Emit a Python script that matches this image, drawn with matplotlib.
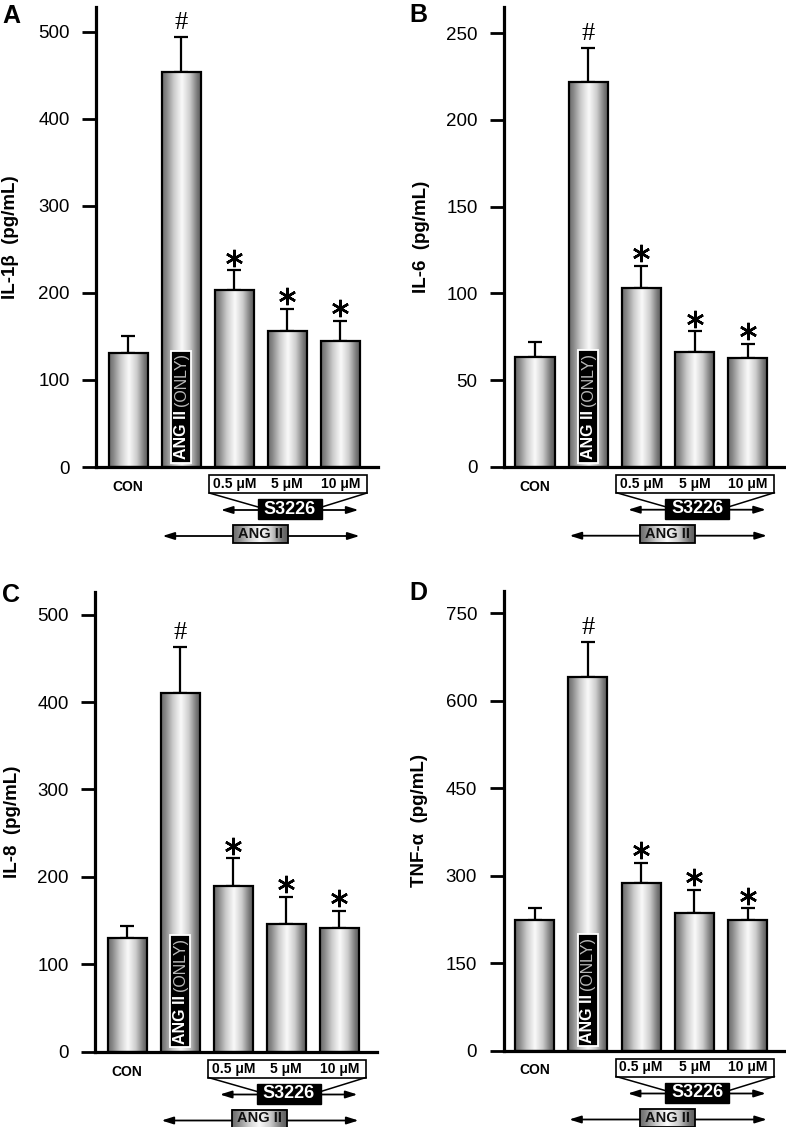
import numpy as np
import matplotlib
matplotlib.use("Agg")
import matplotlib.pyplot as plt
from matplotlib.patches import Rectangle
from matplotlib.transforms import ScaledTranslation

plt.rcParams['font.family'] = ['Liberation Sans', 'DejaVu Sans']

W, H, DPI = 786, 1127, 100
AX_H = 460  # axes height in px

# ---- data ----
groups = ["CON", "ANG II", "0.5 μM", "5 μM", "10 μM"]
dose_labels = ["0.5 μM", "5 μM", "10 μM"]
marks = ["", "#", "*", "*", "*"]

il1b_mean = [131, 454, 204, 156, 145]
il1b_err = [19, 40, 22, 26, 23]
il6_mean = [63, 222, 103, 66, 62.5]
il6_err = [9, 19.5, 13, 12, 8.5]
il8_mean = [130, 411, 190, 146, 141]
il8_err = [14, 52, 31, 31, 20]
tnf_mean = [223, 640, 288, 236, 223]
tnf_err = [22, 61, 34, 40, 21]

il1b_ticks = [0, 100, 200, 300, 400, 500]
il6_ticks = [0, 50, 100, 150, 200, 250]
il8_ticks = [0, 100, 200, 300, 400, 500]
tnf_ticks = [0, 150, 300, 450, 600, 750]

# letter, ylabel, means, errs, ticks, ytop, (left px, top px, width px), xlim, label x, letter pos
panels = [
    ("A", "IL-1β  (pg/mL)", il1b_mean, il1b_err, il1b_ticks, 528.7, (96, 7, 282), (-0.603, 4.708), -0.273, (2, 22.7)),
    ("B", "IL-6  (pg/mL)", il6_mean, il6_err, il6_ticks, 265.3, (504, 6.7, 281), (-0.583, 4.70), -0.262, (409, 21.7)),
    ("C", "IL-8  (pg/mL)", il8_mean, il8_err, il8_ticks, 526.7, (95, 591.5, 282), (-0.603, 4.708), -0.262, (2, 601.7)),
    ("D", "TNF-α  (pg/mL)", tnf_mean, tnf_err, tnf_ticks, 789.0, (503.5, 590.5, 281.5), (-0.583, 4.70), -0.268, (409, 600)),
]

# cylinder-like shading of the bars
grad_stops = [0, 0.1, 0.3, 0.5, 0.7, 0.9, 1.0]
grad_vals = [0.42, 0.52, 0.8, 0.98, 0.8, 0.45, 0.36]
grad = np.interp(np.linspace(0, 1, 200), grad_stops, grad_vals)[None, :]

fig = plt.figure(figsize=(W / DPI, H / DPI), dpi=DPI)


def yb(dy):
    """axes-fraction y for dy px below the x axis"""
    return -dy / AX_H


for letter, ylab, means, errs, ticks, ytop, (lp, tp, wp), xlim, labx, (lx, ly) in panels:
    ax = fig.add_axes([lp / W, 1 - (tp + AX_H) / H, wp / W, AX_H / H])
    x = np.arange(len(groups))
    bars = ax.bar(x, means, 0.735, fill=False, edgecolor='black', linewidth=1.6, zorder=3)
    for b in bars:
        ax.imshow(grad, cmap='gray', vmin=0, vmax=1, aspect='auto', interpolation='bicubic',
                  extent=(b.get_x(), b.get_x() + b.get_width(), 0, b.get_height()), zorder=2)
    ax.errorbar(x, means, yerr=[np.zeros(len(errs)), errs], fmt='none', ecolor='black',
                elinewidth=1.6, capsize=5, capthick=1.6, zorder=1)

    ax.set_xlim(*xlim)
    ax.set_ylim(0, ytop)
    ax.set_yticks(ticks)
    ax.set_xticks([])
    for s in ['top', 'right']:
        ax.spines[s].set_visible(False)
    for s in ['left', 'bottom']:
        ax.spines[s].set_linewidth(2.3)
    ax.tick_params(axis='y', length=10, width=2.0, labelsize=13.5, pad=9)
    ax.set_ylabel(ylab, fontsize=13.5, fontweight='bold')
    ax.yaxis.set_label_coords(labx, 0.5)

    fig.text(lx / W, 1 - ly / H, letter, fontsize=18, fontweight='bold', ha='left', va='baseline')

    # significance marks
    for xi, m, t in zip(x, marks, np.array(means) + np.array(errs)):
        if m == "#":
            ax.annotate("#", (xi, t), xytext=(0, 2), textcoords='offset points',
                        ha='center', va='bottom', fontsize=19, family='Liberation Serif')
        elif m == "*":
            off = ScaledTranslation(0, 9 / 72, fig.dpi_scale_trans)
            ax.plot([xi], [t], marker=(6, 2, 0), markersize=12.5, markeredgewidth=1.8,
                    color='black', transform=ax.transData + off, clip_on=False)

    # ANG II (ONLY) label inside bar
    bx = ax.get_xaxis_transform()
    ax.add_patch(Rectangle((1 - 0.188, 0.009), 0.376, 0.244, transform=bx, facecolor='black',
                           edgecolor='white', linewidth=1.3, zorder=4))
    t1 = ax.text(1, 0.017, "ANG II", transform=bx, rotation=90, ha='center', va='bottom',
                 color='white', fontsize=11.5, fontweight='bold', zorder=5)
    ax.annotate("(ONLY)", xy=(0.5, 1), xycoords=t1, xytext=(0, 3), textcoords='offset points',
                rotation=90, ha='center', va='bottom', color='#b8b8b8', fontsize=11.5, zorder=5)

    # labels under the axis
    ax.text(0, yb(20), groups[0], transform=bx, ha='center', va='center',
            fontsize=10, fontweight='bold')
    ax.add_patch(Rectangle((1.53, yb(26)), 4.50 - 1.53, yb(8) - yb(26), transform=bx,
                           facecolor='white', edgecolor='black', linewidth=1.2, clip_on=False))
    for xi, d in zip(x[2:], dose_labels):
        ax.text(xi, yb(17), d, transform=bx, ha='center', va='center',
                fontsize=10, fontweight='bold')
    ax.plot([1.53, 2.45], [yb(26), yb(40)], transform=bx, color='black', lw=1.1, clip_on=False)
    ax.plot([4.50, 3.65], [yb(26), yb(40)], transform=bx, color='black', lw=1.1, clip_on=False)
    arrow = dict(arrowstyle='-|>,head_length=0.7,head_width=0.22', color='black', lw=1.3,
                 shrinkA=0, shrinkB=0)
    ax.annotate("", xy=(1.75, yb(43)), xytext=(2.5, yb(43)), xycoords=bx, textcoords=bx,
                arrowprops=arrow)
    ax.annotate("", xy=(4.34, yb(43)), xytext=(3.6, yb(43)), xycoords=bx, textcoords=bx,
                arrowprops=arrow)
    ax.add_patch(Rectangle((2.45, yb(52)), 1.2, yb(32) - yb(52), transform=bx,
                           facecolor='black', edgecolor='black', clip_on=False, zorder=4))
    ax.text(3.05, yb(42), "S3226", transform=bx, ha='center', va='center', color='white',
            fontsize=13, fontweight='bold', zorder=5)

    ax.annotate("", xy=(0.65, yb(69)), xytext=(4.36, yb(69)), xycoords=bx, textcoords=bx,
                arrowprops=dict(arrowstyle='<|-|>,head_length=0.7,head_width=0.22', color='black',
                                lw=1.3, shrinkA=0, shrinkB=0))
    ax.imshow(grad, cmap='gray', vmin=0, vmax=1, aspect='auto', interpolation='bicubic',
              extent=(1.98, 3.01, yb(76), yb(58)), transform=bx, zorder=4, clip_on=False)
    ax.add_patch(Rectangle((1.98, yb(76)), 1.03, yb(58) - yb(76), transform=bx, fill=False,
                           edgecolor='black', linewidth=1.3, clip_on=False, zorder=5))
    ax.text(2.495, yb(67), "ANG II", transform=bx, ha='center', va='center', color='#111111',
            fontsize=10.5, fontweight='bold', zorder=6)
    ax.set_xlim(*xlim)
    ax.set_ylim(0, ytop)

fig.savefig("out.png", dpi=DPI)
